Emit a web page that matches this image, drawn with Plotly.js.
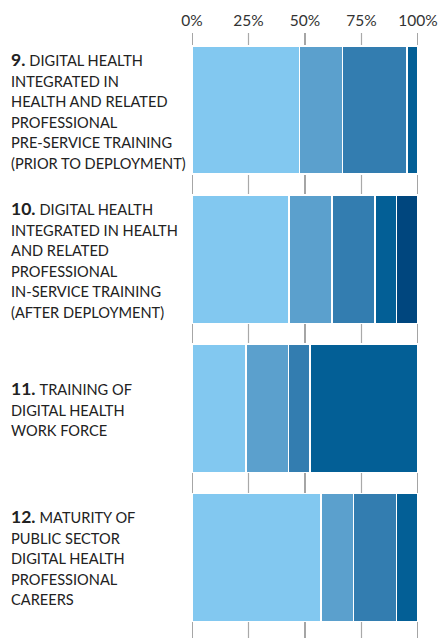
<!DOCTYPE html>
<html>
<head>
<meta charset="utf-8">
<script src="https://cdn.plot.ly/plotly-3.0.1.min.js"></script>
<style>html,body{margin:0;padding:0;background:#fff;}</style>
</head>
<body>
<div id="chart" style="width:438px;height:638px;"></div>
<script>
// Categories (indicator numbers) and their label lines
var categories = ['9', '10', '11', '12'];
var labelLines = [
  ['digital health', 'integrated in', 'health and related', 'professional', 'pre-service training', '(prior to deployment)'],
  ['digital health', 'integrated in health', 'and related', 'professional', 'in-service training', '(after deployment)'],
  ['training of', 'digital health', 'work force'],
  ['maturity of', 'public sector', 'digital health', 'professional', 'careers']
];

// Share of countries per phase (percent)
var phase1 = [47.6, 42.9, 23.8, 57.1];
var phase2 = [19.0, 19.0, 19.0, 14.3];
var phase3 = [28.6, 19.0, 9.5, 19.0];
var phase4 = [4.8, 9.5, 47.6, 9.5];
var phase5 = [0, 9.5, 0, 0];

var xTicks = [0, 25, 50, 75, 100];
var xTickLabels = ['0%', '25%', '50%', '75%', '100%'];

var colors = ['#82C8F0', '#5BA0CD', '#337DB0', '#035F96', '#00467E'];
var series = [phase1, phase2, phase3, phase4, phase5];

var traces = series.map(function (vals, i) {
  return {
    type: 'bar',
    orientation: 'h',
    y: categories,
    x: vals,
    marker: { color: colors[i], line: { color: '#ffffff', width: 1.5 } },
    hoverinfo: 'x',
    showlegend: false
  };
});

var shapes = xTicks.map(function (t) {
  var dark = (t === 0 || t === 50 || t === 100);
  return {
    type: 'line', layer: 'below', xref: 'x', yref: 'paper',
    x0: t, x1: t, y0: 0, y1: 1,
    line: { color: dark ? '#6a6a6a' : '#a9a9a9', width: 1.2 }
  };
});

var annotations = categories.map(function (c, i) {
  var lines = labelLines[i].map(function (l, j) {
    var t = '<span style="font-size:14.6px">' + l.toUpperCase() + '</span>';
    if (j === 0) {
      t = '<span style="font-size:17.5px"><b>' + c + '.</b></span> ' + t;
    }
    return t;
  });
  return {
    xref: 'paper', yref: 'y',
    x: (9 - 192) / 226, y: i,
    xanchor: 'left', yanchor: 'middle', align: 'left',
    showarrow: false,
    text: lines.join('<br>'),
    font: { family: 'Lato, "Open Sans", sans-serif', size: 15.8, color: '#222222' }
  };
});

var layout = {
  width: 438, height: 638,
  margin: { l: 192, r: 20, t: 33, b: 0, pad: 0 },
  paper_bgcolor: '#ffffff',
  plot_bgcolor: '#ffffff',
  barmode: 'stack',
  bargap: 0.14,
  xaxis: {
    side: 'top',
    range: [0, 100],
    tickvals: xTicks,
    ticktext: xTickLabels,
    showgrid: false,
    zeroline: false,
    showline: false,
    ticks: '',
    ticklabelstandoff: 3,
    tickfont: { family: 'Lato, "Open Sans", sans-serif', size: 15.5, color: '#333333' },
    fixedrange: true
  },
  yaxis: {
    type: 'category',
    categoryorder: 'array',
    categoryarray: categories,
    range: [3.54, -0.517],
    showticklabels: false,
    showgrid: false,
    zeroline: false,
    showline: false,
    ticks: '',
    fixedrange: true
  },
  shapes: shapes,
  annotations: annotations
};

Plotly.newPlot('chart', traces, layout, { displayModeBar: false, staticPlot: true });
</script>
</body>
</html>
